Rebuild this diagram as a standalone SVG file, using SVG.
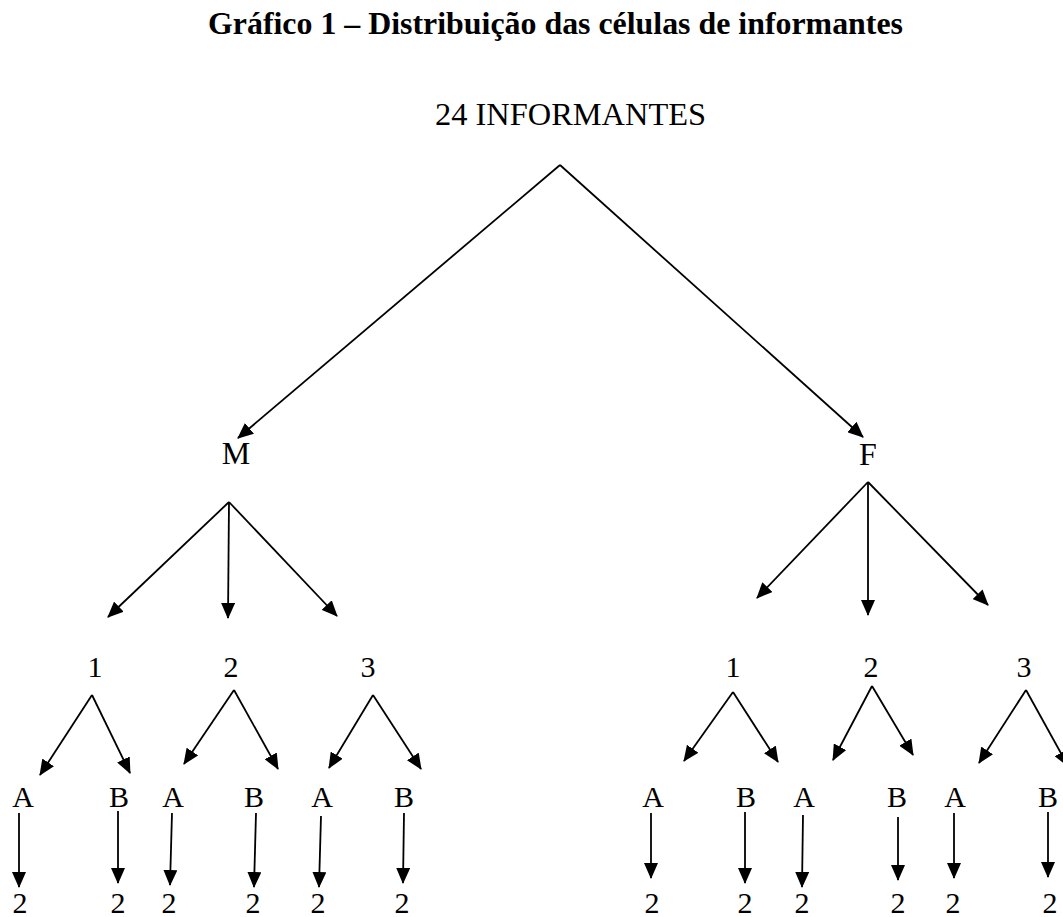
<svg xmlns="http://www.w3.org/2000/svg" width="1063" height="917" viewBox="0 0 1063 917">
<style>
text{font-family:"Liberation Serif","Times New Roman",serif;fill:#000}
.t{font-size:32px;font-weight:bold}
.n{font-size:32px;text-anchor:middle}
.s{font-size:30px;text-anchor:middle}
.c line{stroke:#000;stroke-width:1.8;marker-end:url(#ah)}
</style>
<defs>
<marker id="ah" viewBox="0 0 16 14" refX="15" refY="7" markerWidth="16" markerHeight="14" markerUnits="userSpaceOnUse" orient="auto">
<path d="M0,0 L16,7 L0,14 z" fill="#000"/>
</marker>
</defs>
<rect width="1063" height="917" fill="#fff"/>
<text id="title" class="t" x="208" y="34" textLength="695" lengthAdjust="spacingAndGlyphs">Gráfico 1 – Distribuição das células de informantes</text>
<g id="root"><text x="435" y="125" font-size="32" textLength="271" lengthAdjust="spacingAndGlyphs">24 INFORMANTES</text></g>
<g id="M"><text class="n" x="236" y="464">M</text></g>
<g id="F"><text class="n" x="868" y="465">F</text></g>
<g id="M1"><text class="s" x="95" y="677">1</text></g>
<g id="M2"><text class="s" x="231" y="677">2</text></g>
<g id="M3"><text class="s" x="368" y="677">3</text></g>
<g id="F1"><text class="s" x="733" y="677">1</text></g>
<g id="F2"><text class="s" x="871" y="677">2</text></g>
<g id="F3"><text class="s" x="1024" y="677">3</text></g>
<g id="M1A"><text class="s" x="23" y="807">A</text></g>
<g id="M1B"><text class="s" x="119" y="807">B</text></g>
<g id="M2A"><text class="s" x="173" y="807">A</text></g>
<g id="M2B"><text class="s" x="254" y="807">B</text></g>
<g id="M3A"><text class="s" x="322" y="807">A</text></g>
<g id="M3B"><text class="s" x="404" y="807">B</text></g>
<g id="F1A"><text class="s" x="653" y="807">A</text></g>
<g id="F1B"><text class="s" x="746" y="807">B</text></g>
<g id="F2A"><text class="s" x="804" y="807">A</text></g>
<g id="F2B"><text class="s" x="897" y="807">B</text></g>
<g id="F3A"><text class="s" x="955" y="807">A</text></g>
<g id="F3B"><text class="s" x="1048" y="807">B</text></g>
<g id="M1A2"><text class="s" x="20" y="913">2</text></g>
<g id="M1B2"><text class="s" x="118" y="913">2</text></g>
<g id="M2A2"><text class="s" x="169" y="913">2</text></g>
<g id="M2B2"><text class="s" x="253" y="913">2</text></g>
<g id="M3A2"><text class="s" x="318" y="913">2</text></g>
<g id="M3B2"><text class="s" x="402" y="913">2</text></g>
<g id="F1A2"><text class="s" x="652" y="913">2</text></g>
<g id="F1B2"><text class="s" x="745" y="913">2</text></g>
<g id="F2A2"><text class="s" x="802" y="913">2</text></g>
<g id="F2B2"><text class="s" x="898" y="913">2</text></g>
<g id="F3A2"><text class="s" x="953" y="913">2</text></g>
<g id="F3B2"><text class="s" x="1050" y="913">2</text></g>
<g id="connectors" class="c">
<line x1="560" y1="165" x2="238" y2="438"/>
<line x1="560" y1="165" x2="863" y2="437"/>
<line x1="229" y1="502" x2="108" y2="617"/>
<line x1="229" y1="502" x2="228" y2="618"/>
<line x1="229" y1="502" x2="337" y2="616"/>
<line x1="868" y1="482" x2="757" y2="598"/>
<line x1="868" y1="482" x2="868" y2="615"/>
<line x1="868" y1="482" x2="988" y2="605"/>
<line x1="92" y1="695" x2="40" y2="775"/>
<line x1="92" y1="695" x2="130" y2="773"/>
<line x1="234" y1="690" x2="184" y2="764"/>
<line x1="234" y1="690" x2="278" y2="769"/>
<line x1="373" y1="695" x2="329" y2="768"/>
<line x1="373" y1="695" x2="421" y2="769"/>
<line x1="733" y1="692" x2="684" y2="761"/>
<line x1="733" y1="692" x2="778" y2="762"/>
<line x1="872" y1="686" x2="833" y2="760"/>
<line x1="872" y1="686" x2="913" y2="755"/>
<line x1="1026" y1="690" x2="979" y2="763"/>
<line x1="1026" y1="690" x2="1068" y2="766"/>
<line x1="19" y1="813" x2="19" y2="887"/>
<line x1="118" y1="811" x2="118" y2="883"/>
<line x1="172" y1="813" x2="170" y2="885"/>
<line x1="256" y1="813" x2="254" y2="887"/>
<line x1="321" y1="816" x2="319" y2="887"/>
<line x1="404" y1="813" x2="403" y2="883"/>
<line x1="651" y1="813" x2="651" y2="878"/>
<line x1="745" y1="812" x2="745" y2="883"/>
<line x1="803" y1="815" x2="802" y2="887"/>
<line x1="898" y1="817" x2="898" y2="880"/>
<line x1="954" y1="813" x2="954" y2="878"/>
<line x1="1048" y1="812" x2="1048" y2="877"/>
</g>
</svg>
